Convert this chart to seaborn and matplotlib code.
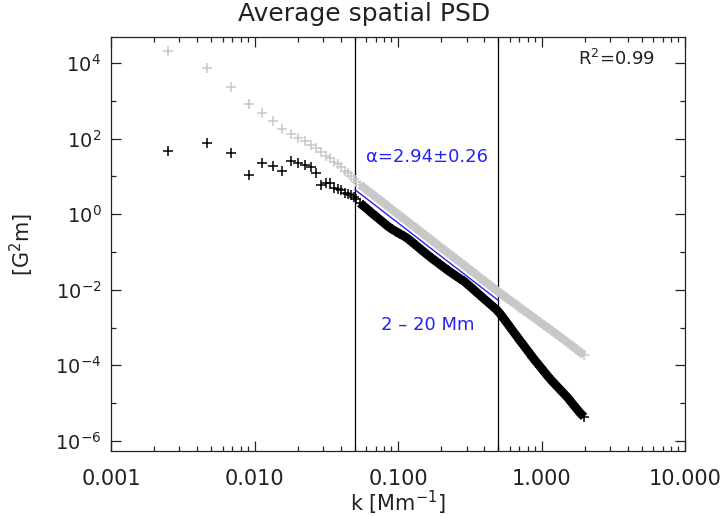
import numpy as np
import pandas as pd
import seaborn as sns
import matplotlib
matplotlib.use("Agg")
import matplotlib.pyplot as plt
from matplotlib import ticker

# wavenumbers of the separated low-k points
k_low = [0.0025, 0.0047, 0.0069, 0.0091, 0.0113, 0.0134, 0.0156, 0.0179,
         0.0201, 0.0224, 0.0246, 0.0268, 0.0290, 0.0313, 0.0335, 0.0357,
         0.0380, 0.0402, 0.0424, 0.0447, 0.0469, 0.0491, 0.0513]
# wavenumbers sampled along the dense part of the spectra
k_band = [0.0543, 0.0579, 0.0618, 0.0659, 0.0702, 0.0749, 0.0799, 0.0851,
          0.0908, 0.0968, 0.1032, 0.1101, 0.1174, 0.1251, 0.1334, 0.1423,
          0.1517, 0.1618, 0.1725, 0.1839, 0.1961, 0.2091, 0.2230, 0.2378,
          0.2535, 0.2703, 0.2883, 0.3074, 0.3278, 0.3495, 0.3727, 0.3974,
          0.4237, 0.4518, 0.4818, 0.5137, 0.5478, 0.5841, 0.6228, 0.6641,
          0.7082, 0.7551, 0.8052, 0.8586, 0.9155, 0.9762, 1.041, 1.110,
          1.183, 1.262, 1.345, 1.434, 1.530, 1.631, 1.739, 1.855, 1.978]

# grey spectrum
grey_low = [20700, 7520, 2360, 822, 480, 295, 179, 132, 107, 86.5, 69.2,
            55.3, 44.3, 35.5, 30.2, 24.5, 20.9, 17.4, 14.1, 12.0, 10.2,
            8.51, 7.24]
grey_band = [6.03, 4.99, 4.13, 3.42, 2.83, 2.35, 1.94, 1.61, 1.33, 1.10,
             0.913, 0.756, 0.626, 0.518, 0.429, 0.355, 0.294, 0.243, 0.201,
             0.167, 0.138, 0.114, 0.0947, 0.0784, 0.0653, 0.0540, 0.0448,
             0.0371, 0.0307, 0.0254, 0.0210, 0.0174, 0.0144, 0.0120, 0.00994,
             0.00823, 0.00690, 0.00574, 0.00481, 0.00403, 0.00336, 0.00282,
             0.00236, 0.00197, 0.00165, 0.00138, 0.00116, 0.000976, 0.000813,
             0.000681, 0.000568, 0.000475, 0.000396, 0.000328, 0.000272,
             0.000225, 0.000186]

# black spectrum
black_low = [47.0, 75.0, 42.4, 11.1, 23.0, 19.2, 14.2, 25.5, 23.0, 20.0,
             18.1, 12.1, 5.92, 6.81, 6.56, 4.84, 4.65, 4.37, 3.71, 3.42,
             3.22, 2.80, 2.48]
black_band = [1.97, 1.61, 1.31, 1.06, 0.869, 0.711, 0.582, 0.476, 0.401,
              0.348, 0.301, 0.262, 0.224, 0.183, 0.150, 0.122, 0.100, 0.0818,
              0.0673, 0.0561, 0.0467, 0.0389, 0.0324, 0.0273, 0.0232, 0.0197,
              0.0168, 0.0136, 0.0110, 0.00886, 0.00715, 0.00574, 0.00467,
              0.00377, 0.00305, 0.00233, 0.00168, 0.00121, 0.000869,
              0.000626, 0.000450, 0.000326, 0.000236, 0.000170, 0.000125,
              9.29e-5, 6.85e-5, 5.08e-5, 3.84e-5, 2.96e-5, 2.29e-5, 1.77e-5,
              1.36e-5, 1.00e-5, 7.42e-6, 5.50e-6, 4.31e-6]

# power-law fit between 20 and 2 Mm
fit_k = [0.05, 0.5]
fit_psd = [4.5, 0.0052]
range_k = [0.05, 0.5]

xtick_vals = [0.001, 0.01, 0.1, 1.0, 10.0]
xtick_labels = ["0.001", "0.010", "0.100", "1.000", "10.000"]
ytick_vals = [1e-6, 1e-4, 1e-2, 1e0, 1e2, 1e4]
ytick_minor = [1e-5, 1e-3, 1e-1, 1e1, 1e3]

GREY = "#c8c8c8"
BLUE = "#2424f0"
INK = "#222222"


def main():
    sns.set_style("ticks")
    plt.rcParams["font.family"] = ["DejaVu Sans"]
    plt.rcParams["mathtext.fontset"] = "dejavusans"

    grey = pd.DataFrame({"k": k_low + k_band, "psd": grey_low + grey_band})
    black = pd.DataFrame({"k": k_low + k_band, "psd": black_low + black_band})

    fig = plt.figure(figsize=(7.28, 5.16), dpi=100)
    ax = fig.add_axes([0.1525, 0.126, 0.7885, 0.8023])

    # the dense high-k part: crosses overlap into a solid band
    sns.lineplot(x=k_band, y=grey_band, color=GREY, linewidth=6,
                 sort=False, estimator=None, solid_capstyle="butt",
                 ax=ax, zorder=3)
    sns.scatterplot(data=grey, x="k", y="psd", marker="+", s=55,
                    color=GREY, edgecolor=GREY, linewidth=1.1,
                    ax=ax, zorder=3)
    sns.lineplot(x=k_band, y=black_band, color="black", linewidth=6.3,
                 sort=False, estimator=None, solid_capstyle="butt",
                 ax=ax, zorder=4)
    sns.scatterplot(data=black, x="k", y="psd", marker="+", s=55,
                    color="black", edgecolor="black", linewidth=1.1,
                    ax=ax, zorder=4)
    sns.lineplot(x=fit_k, y=fit_psd, color=BLUE, linewidth=1.0,
                 ax=ax, zorder=5)
    for kk in range_k:
        ax.axvline(kk, color="black", linewidth=0.9, zorder=2)

    ax.set_xscale("log")
    ax.set_yscale("log")
    ax.set_xlim(0.001, 10.0)
    ax.set_ylim(5.4e-7, 4.9e4)

    ax.xaxis.set_major_locator(ticker.FixedLocator(xtick_vals))
    ax.xaxis.set_major_formatter(ticker.FixedFormatter(xtick_labels))
    ax.xaxis.set_minor_locator(ticker.LogLocator(base=10, subs=np.arange(2, 10)))
    ax.xaxis.set_minor_formatter(ticker.NullFormatter())
    ax.yaxis.set_major_locator(ticker.FixedLocator(ytick_vals))
    ax.yaxis.set_major_formatter(ticker.LogFormatterMathtext())
    ax.yaxis.set_minor_locator(ticker.FixedLocator(ytick_minor))
    ax.yaxis.set_minor_formatter(ticker.NullFormatter())

    ax.tick_params(which="both", direction="in", top=True, right=True,
                   color=INK, width=0.9)
    ax.tick_params(which="major", length=7.5)
    ax.tick_params(which="minor", length=3.8)
    ax.tick_params(axis="x", which="major", labelsize=15, pad=13,
                   labelcolor=INK)
    ax.tick_params(axis="y", which="major", labelsize=14, pad=7,
                   labelcolor=INK)
    for sp in ax.spines.values():
        sp.set_linewidth(0.9)
        sp.set_color(INK)

    ax.set_xlabel("")
    ax.set_ylabel("")
    ax.text(0.5, -0.126, "k [Mm$^{-1}$]", transform=ax.transAxes,
            ha="center", va="center", fontsize=15, color=INK)
    ax.text(-0.155, 0.5, "[G$^2$m]", transform=ax.transAxes, rotation=90,
            ha="center", va="center", fontsize=15, color=INK)
    fig.text(0.5, 1 - 14 / 516, "Average spatial PSD", ha="center",
             va="center", fontsize=18, color=INK)

    ax.text(0.551, 0.711, "\u03b1=2.94\u00b10.26", transform=ax.transAxes,
            ha="center", va="center", fontsize=13, color=BLUE)
    ax.text(0.552, 0.304, "2 \u2013 20 Mm", transform=ax.transAxes,
            ha="center", va="center", fontsize=13, color=BLUE)
    ax.text(0.880, 0.947, "R$^2$=0.99", transform=ax.transAxes,
            ha="center", va="center", fontsize=13, color=INK)

    legend = ax.get_legend()
    if legend is not None:
        legend.remove()

    fig.savefig("out.png", dpi=100)


if __name__ == "__main__":
    main()
